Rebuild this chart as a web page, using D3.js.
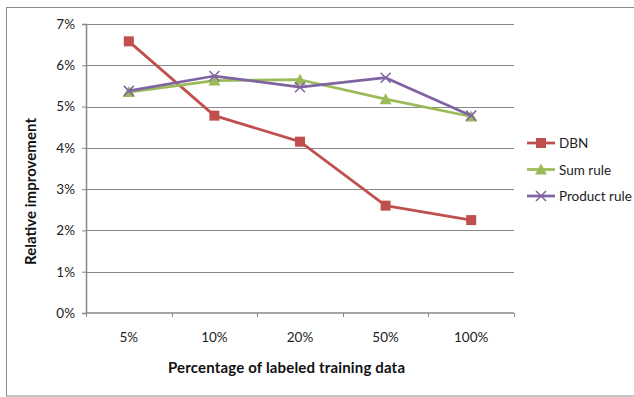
<!DOCTYPE html>
<html>
<head>
<meta charset="utf-8">
<script src="https://cdn.jsdelivr.net/npm/d3@7"></script>
<style>
  html, body { margin: 0; padding: 0; background: #fff; }
  svg { display: block; font-family: Lato, "Open Sans", "Liberation Sans", sans-serif; }
</style>
</head>
<body>
<svg id="chart" width="634" height="397"></svg>
<script>
// Relative improvement (%) by share of labeled training data
const categories = ["5%", "10%", "20%", "50%", "100%"];
const dbn = [6.58, 4.78, 4.15, 2.60, 2.25];
const sumRule = [5.35, 5.63, 5.65, 5.18, 4.76];
const productRule = [5.38, 5.74, 5.47, 5.70, 4.78];
const yTicks = [0, 1, 2, 3, 4, 5, 6, 7];

const seriesNames = ["DBN", "Sum rule", "Product rule"];
const seriesColors = ["#C0504D", "#9BBB59", "#8064A2"];
const seriesShapes = ["square", "triangle", "cross"];
const seriesValues = [dbn, sumRule, productRule];

const svg = d3.select("#chart");

// outer chart frame
svg.append("rect")
  .attr("x", 6.5).attr("y", 7.5)
  .attr("width", 640).attr("height", 388.5)
  .attr("fill", "none").attr("stroke", "#8c8c8c").attr("stroke-width", 1);

const plot = { left: 86, right: 514, top: 24, bottom: 313 };

const x = d3.scaleBand().domain(categories).range([plot.left, plot.right]);
const y = d3.scaleLinear().domain([0, 7]).range([plot.bottom, plot.top]);

// horizontal gridlines
svg.append("g")
  .selectAll("line")
  .data(yTicks.filter(d => d > 0))
  .join("line")
  .attr("x1", plot.left).attr("x2", plot.right)
  .attr("y1", d => Math.round(y(d)) + 0.5).attr("y2", d => Math.round(y(d)) + 0.5)
  .attr("stroke", "#888").attr("stroke-width", 1);

// y axis
const yAxis = svg.append("g")
  .attr("transform", `translate(${plot.left},0)`)
  .call(d3.axisLeft(y).tickValues(yTicks).tickFormat(d => d + "%").tickSize(4).tickPadding(7));
yAxis.select(".domain").attr("stroke", "#888").attr("stroke-width", 1.5);
yAxis.selectAll(".tick line").attr("stroke", "#888");
yAxis.selectAll("text").attr("font-size", 13.5).attr("fill", "#222")
  .attr("font-family", "Lato, sans-serif");

// x axis: ticks sit on category boundaries
const xAxisG = svg.append("g").attr("transform", `translate(0,${plot.bottom})`);
xAxisG.append("line")
  .attr("x1", plot.left).attr("x2", plot.right)
  .attr("y1", 0).attr("y2", 0)
  .attr("stroke", "#888").attr("stroke-width", 1.5);
const boundaries = categories.map(c => x(c)).concat([x.range()[1]]);
xAxisG.selectAll("line.tk")
  .data(boundaries)
  .join("line").attr("class", "tk")
  .attr("x1", d => Math.round(d) + 0.5).attr("x2", d => Math.round(d) + 0.5)
  .attr("y1", 0).attr("y2", 4)
  .attr("stroke", "#888").attr("stroke-width", 1);
xAxisG.selectAll("text")
  .data(categories)
  .join("text")
  .attr("x", d => x(d) + x.bandwidth() / 2)
  .attr("y", 29)
  .attr("text-anchor", "middle")
  .attr("font-size", 13.5).attr("fill", "#222")
  .text(d => d);

// axis titles
svg.append("text")
  .attr("x", 286.5).attr("y", 373)
  .attr("text-anchor", "middle")
  .attr("font-size", 15).attr("font-weight", "bold").attr("fill", "#111")
  .attr("textLength", 237).attr("lengthAdjust", "spacing")
  .text("Percentage of labeled training data");

svg.append("text")
  .attr("transform", `translate(36,191.5) rotate(-90)`)
  .attr("text-anchor", "middle")
  .attr("font-size", 15).attr("font-weight", "bold").attr("fill", "#111")
  .attr("textLength", 147).attr("lengthAdjust", "spacing")
  .text("Relative improvement");

// marker drawing helper
function drawMarker(g, shape, cx, cy, color) {
  if (shape === "square") {
    g.append("rect").attr("x", cx - 5).attr("y", cy - 5)
      .attr("width", 10).attr("height", 10).attr("fill", color);
  } else if (shape === "triangle") {
    g.append("path")
      .attr("d", `M${cx},${cy - 6} L${cx + 6},${cy + 5} L${cx - 6},${cy + 5} Z`)
      .attr("fill", color);
  } else {
    g.append("path")
      .attr("d", `M${cx - 5},${cy - 5} L${cx + 5},${cy + 5} M${cx - 5},${cy + 5} L${cx + 5},${cy - 5}`)
      .attr("stroke", color).attr("stroke-width", 1.5).attr("fill", "none");
  }
}

const line = d3.line()
  .x((d, i) => x(categories[i]) + x.bandwidth() / 2)
  .y(d => y(d));

seriesValues.forEach((vals, si) => {
  const g = svg.append("g");
  g.append("path")
    .datum(vals)
    .attr("d", line)
    .attr("fill", "none")
    .attr("stroke", seriesColors[si])
    .attr("stroke-width", 2.75)
    .attr("stroke-linejoin", "round");
  vals.forEach((v, i) => {
    drawMarker(g, seriesShapes[si], x(categories[i]) + x.bandwidth() / 2, y(v), seriesColors[si]);
  });
});

// legend
const legendY = [143, 169.5, 196];
seriesNames.forEach((name, si) => {
  const g = svg.append("g");
  g.append("line")
    .attr("x1", 527).attr("x2", 555)
    .attr("y1", legendY[si]).attr("y2", legendY[si])
    .attr("stroke", seriesColors[si]).attr("stroke-width", 2.75);
  drawMarker(g, seriesShapes[si], 541, legendY[si], seriesColors[si]);
  g.append("text")
    .attr("x", 559).attr("y", legendY[si] + 5)
    .attr("font-size", 13.5).attr("fill", "#222")
    .text(name);
});
</script>
</body>
</html>
